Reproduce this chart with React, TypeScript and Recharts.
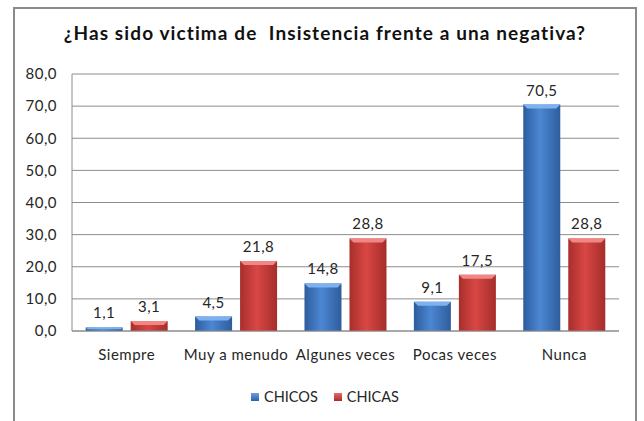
import React from 'react';
import {
  BarChart,
  Bar,
  XAxis,
  YAxis,
  CartesianGrid,
  LabelList,
} from 'recharts';

const categories = ['Siempre', 'Muy a menudo', 'Algunes veces', 'Pocas veces', 'Nunca'];
const chicos = [1.1, 4.5, 14.8, 9.1, 70.5];
const chicas = [3.1, 21.8, 28.8, 17.5, 28.8];
const yTicks = [0, 10, 20, 30, 40, 50, 60, 70, 80];

const data = categories.map((name, i) => ({ name, CHICOS: chicos[i], CHICAS: chicas[i] }));

const FONT = 'Lato, "Open Sans", sans-serif';
const TEXT = '#262626';
const tickStyle = { fontFamily: FONT, fontSize: 15, fill: TEXT, letterSpacing: 0.5 };

const fmt = (v: number) => v.toFixed(1).replace('.', ',');

// bar with a side-lit gradient and a bevelled top edge, like the office 3D style
const BevelBar = (props: any) => {
  const { x, y, width, height, grad, edge } = props;
  if (!height || height <= 0) return null;
  const b = Math.min(4, height / 2);
  return (
    <g>
      <rect x={x} y={y} width={width} height={height} fill={`url(#${grad})`} />
      <polygon
        points={`${x},${y} ${x + width},${y} ${x + width - b},${y + b} ${x + b},${y + b}`}
        fill={edge}
      />
    </g>
  );
};

const legendItems = [
  { label: 'CHICOS', grad: 'linear-gradient(#6a9fe0, #2c5fa5)' },
  { label: 'CHICAS', grad: 'linear-gradient(#e86a66, #a82c2a)' },
];

export default function App() {
  return (
    <div
      style={{
        position: 'absolute',
        left: 13,
        top: 7,
        width: 620,
        height: 415,
        border: '2px solid #8a8a8a',
        background: '#fff',
      }}
    >
      <div
        style={{
          position: 'absolute',
          top: 12,
          left: 0,
          width: 620,
          textAlign: 'center',
          fontFamily: FONT,
          fontWeight: 'bold',
          fontSize: 19,
          letterSpacing: 1.1,
          color: '#111',
          whiteSpace: 'pre',
        }}
      >
        {'¿Has sido victima de  Insistencia frente a una negativa?'}
      </div>
      <BarChart
        width={620}
        height={415}
        data={data}
        margin={{ top: 65, right: 16, left: 0, bottom: 63 }}
        barCategoryGap="12.5%"
        barGap={8}
      >
        <defs>
          <linearGradient id="blueGrad" x1="0" y1="0" x2="1" y2="0">
            <stop offset="0%" stopColor="#2d5c9c" />
            <stop offset="45%" stopColor="#4c87d3" />
            <stop offset="100%" stopColor="#2e5d9c" />
          </linearGradient>
          <linearGradient id="redGrad" x1="0" y1="0" x2="1" y2="0">
            <stop offset="0%" stopColor="#a82e2c" />
            <stop offset="45%" stopColor="#d84744" />
            <stop offset="100%" stopColor="#a52d2b" />
          </linearGradient>
        </defs>
        <CartesianGrid vertical={false} stroke="#8c8c8c" strokeWidth={1} />
        <XAxis
          dataKey="name"
          axisLine={{ stroke: '#8c8c8c' }}
          tickLine={false}
          tickMargin={12}
          interval={0}
          tick={tickStyle}
        />
        <YAxis
          domain={[0, 80]}
          ticks={yTicks}
          width={57}
          axisLine={{ stroke: '#8c8c8c' }}
          tickLine={false}
          tickMargin={9}
          tickFormatter={fmt}
          tick={tickStyle}
        />
        <Bar
          dataKey="CHICOS"
          isAnimationActive={false}
          fill="#3a70b8"
          shape={(p: any) => <BevelBar {...p} grad="blueGrad" edge="#7db2ee" />}
        >
          <LabelList
            dataKey="CHICOS"
            position="top"
            offset={9}
            formatter={(v: any) => fmt(Number(v))}
            style={tickStyle}
          />
        </Bar>
        <Bar
          dataKey="CHICAS"
          isAnimationActive={false}
          fill="#c0403d"
          shape={(p: any) => <BevelBar {...p} grad="redGrad" edge="#f08784" />}
        >
          <LabelList
            dataKey="CHICAS"
            position="top"
            offset={9}
            formatter={(v: any) => fmt(Number(v))}
            style={tickStyle}
          />
        </Bar>
      </BarChart>
      <div
        style={{
          position: 'absolute',
          top: 379,
          left: 0,
          width: 620,
          display: 'flex',
          justifyContent: 'center',
          gap: 16,
          fontFamily: FONT,
          fontSize: 14.5,
          color: TEXT,
        }}
      >
        {legendItems.map((it) => (
          <span key={it.label} style={{ display: 'flex', alignItems: 'center' }}>
            <span
              style={{ width: 8, height: 8, background: it.grad, marginRight: 5, display: 'inline-block' }}
            />
            {it.label}
          </span>
        ))}
      </div>
    </div>
  );
}
